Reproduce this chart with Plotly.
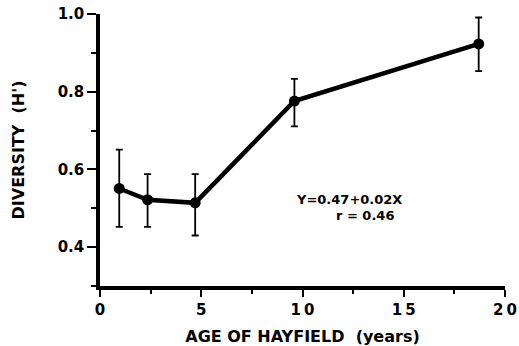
import plotly.graph_objects as go

age = [0.95, 2.35, 4.7, 9.6, 18.7]
diversity = [0.551, 0.522, 0.514, 0.776, 0.923]
err_plus = [0.100, 0.066, 0.074, 0.057, 0.068]
err_minus = [0.099, 0.070, 0.084, 0.065, 0.070]

x_tickvals = [0, 5, 10, 15, 20]
x_ticktext = ["0", "5", "1\u20090", "1\u20095", "2\u20090"]
y_tickvals = [0.4, 0.6, 0.8, 1.0]
y_ticktext = ["0.4", "0.6", "0.8", "1.0"]

FONT = "DejaVu Sans"

fig = go.Figure()
fig.add_trace(go.Scatter(
    x=age, y=diversity, mode="lines+markers",
    line=dict(color="black", width=4.5),
    marker=dict(color="black", size=11),
    error_y=dict(type="data", symmetric=False, array=err_plus, arrayminus=err_minus,
                 color="black", thickness=1.8, width=3.5),
    showlegend=False,
))

fig.add_annotation(x=12.3, y=0.523, xref="x", yref="y",
                   text="<b>Y=0.47+0.02X</b>", showarrow=False,
                   font=dict(family=FONT, size=13, color="black"))
fig.add_annotation(x=13.1, y=0.482, xref="x", yref="y",
                   text="<b>r = 0.46</b>", showarrow=False,
                   font=dict(family=FONT, size=13, color="black"))

fig.update_xaxes(range=[0, 20], tickvals=x_tickvals,
                 ticktext=["<b>%s</b>" % t for t in x_ticktext],
                 ticklabeloverflow="allow", automargin=False,
                 showline=True, linecolor="#000000", linewidth=3.5, mirror=False,
                 ticks="outside", ticklen=7, tickwidth=2, tickcolor="#000000",
                 minor=dict(dtick=2.5, tick0=0, ticks="outside", ticklen=4, tickwidth=1.5, tickcolor="#000000"),
                 showgrid=False, zeroline=False,
                 tickfont=dict(family=FONT, size=15, color="black"),
                 title=dict(text="<b>AGE OF HAYFIELD  (years)</b>", standoff=18,
                            font=dict(family=FONT, size=16, color="black")))
fig.update_yaxes(range=[0.3, 1.0], tickvals=y_tickvals,
                 ticktext=["<b>%s</b>" % t for t in y_ticktext],
                 automargin=False,
                 showline=True, linecolor="#000000", linewidth=3.5,
                 ticks="outside", ticklen=9, tickwidth=2, tickcolor="#000000",
                 minor=dict(dtick=0.1, tick0=0.3, ticks="outside", ticklen=5, tickwidth=1.5, tickcolor="#000000"),
                 showgrid=False, zeroline=False,
                 tickfont=dict(family=FONT, size=15, color="black"),
                 title=dict(text="<b>DIVERSITY  (H')</b>", standoff=30,
                            font=dict(family=FONT, size=16, color="black")))

fig.update_layout(width=519, height=346, margin=dict(l=100, r=14, t=14, b=60),
                  paper_bgcolor="white", plot_bgcolor="white")

fig.write_html("out.html")
